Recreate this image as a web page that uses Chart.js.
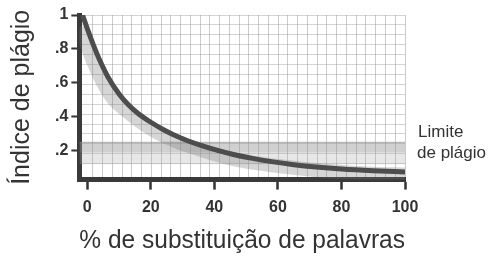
<!DOCTYPE html>
<html>
<head>
<meta charset="utf-8">
<script src="https://cdn.jsdelivr.net/npm/chart.js@4.4.1/dist/chart.umd.min.js"></script>
<style>
  html, body { margin: 0; padding: 0; background: #fff; }
  #wrap { width: 495px; height: 258px; position: relative; }
</style>
</head>
<body>
<div id="wrap"><canvas id="chart"></canvas></div>
<script>
// curva principal: % de substituição -> índice de plágio
const pctSubst = [-1.5, 0, 2, 4, 6.5, 10, 13, 16, 20, 24, 28, 32, 36, 41, 46, 52, 58, 65, 72, 80, 90, 100];
const indice = [1.0, 0.92, 0.82, 0.73, 0.635, 0.535, 0.47, 0.42, 0.368, 0.324, 0.287, 0.256, 0.23, 0.202, 0.178, 0.155, 0.136, 0.118, 0.104, 0.092, 0.082, 0.075];

// sombra cinza por baixo da curva
const sombraX = [-2, 0, 2, 5, 8, 12, 16, 20, 25, 30, 35, 40, 46, 52, 60, 70, 80, 90, 100];
const sombraY = [0.93, 0.82, 0.72, 0.6, 0.51, 0.44, 0.38, 0.33, 0.28, 0.24, 0.21, 0.18, 0.15, 0.13, 0.11, 0.09, 0.075, 0.065, 0.06];

// faixa "Limite de plágio"
const faixaX = [-2.5, 100];
const limiteSup = 0.25;
const limiteMeio = 0.19;
const limiteInf = 0.12;

const xTicks = [0, 20, 40, 60, 80, 100];
const yTicks = [0.2, 0.4, 0.6, 0.8, 1];
const yLabels = { 0.2: ".2", 0.4: ".4", 0.6: ".6", 0.8: ".8", 1: "1" };

const pts = (xs, ys) => xs.map((x, i) => ({ x: x, y: ys[i] }));
const flat = (v) => faixaX.map((x) => ({ x: x, y: v }));

const textColor = "#333";
const FONT = "'Liberation Sans', Arial, sans-serif";

const limiteLabel = {
  id: "limiteLabel",
  afterDraw(chart) {
    const { ctx, chartArea, scales } = chart;
    const y = scales.y.getPixelForValue(0.187);
    ctx.save();
    ctx.fillStyle = textColor;
    ctx.font = "17px " + FONT;
    ctx.textAlign = "left";
    ctx.textBaseline = "middle";
    ctx.fillText("Limite", chartArea.right + 13, y - 21);
    ctx.fillText("de plágio", chartArea.right + 12, y);
    ctx.restore();
  },
};

new Chart(document.getElementById("chart"), {
  type: "scatter",
  data: {
    datasets: [
      {
        data: pts(pctSubst, indice),
        showLine: true,
        borderColor: "#4d4d4d",
        borderWidth: 5,
        pointRadius: 0,
        cubicInterpolationMode: "monotone",
      },
      {
        data: pts(sombraX, sombraY),
        showLine: true,
        borderColor: "rgba(120,120,120,0.3)",
        borderWidth: 14,
        pointRadius: 0,
        cubicInterpolationMode: "monotone",
      },
      {
        data: flat(limiteSup),
        showLine: true,
        borderColor: "rgba(140,140,140,0.6)",
        borderWidth: 1,
        pointRadius: 0,
        fill: "+1",
        backgroundColor: "rgba(150,150,150,0.45)",
      },
      {
        data: flat(limiteMeio),
        showLine: true,
        borderWidth: 0,
        pointRadius: 0,
        fill: "+1",
        backgroundColor: "rgba(170,170,170,0.28)",
      },
      {
        data: flat(limiteInf),
        showLine: true,
        borderWidth: 0,
        pointRadius: 0,
      },
    ],
  },
  options: {
    responsive: true,
    maintainAspectRatio: false,
    animation: false,
    layout: { padding: { top: 15, right: 90, bottom: 0, left: 0 } },
    plugins: {
      legend: { display: false },
      tooltip: { enabled: false },
    },
    scales: {
      x: {
        type: "linear",
        min: -2.5,
        max: 100,
        afterBuildTicks: (axis) => { axis.ticks = xTicks.map((v) => ({ value: v })); },
        grid: { drawOnChartArea: false, drawTicks: true, tickLength: 10, tickColor: "#333", tickWidth: 2.5 },
        border: { display: true, color: "#3a3a3a", width: 5 },
        ticks: { color: textColor, padding: 8, font: { family: FONT, size: 16, weight: "bold" } },
        title: {
          display: true,
          text: "% de substituição de palavras",
          color: textColor,
          font: { family: FONT, size: 26 },
          padding: { top: 0, bottom: 2 },
        },
      },
      y: {
        type: "linear",
        min: 0.03,
        max: 1,
        afterBuildTicks: (axis) => { axis.ticks = yTicks.map((v) => ({ value: v })); },
        grid: { drawOnChartArea: false, drawTicks: true, tickLength: 8, tickColor: "#333", tickWidth: 2 },
        border: { display: true, color: "#3a3a3a", width: 5 },
        ticks: {
          color: textColor,
          padding: 3,
          font: { family: FONT, size: 16, weight: "bold" },
          callback: (v) => yLabels[v],
        },
        title: {
          display: true,
          text: "Índice de plágio",
          color: textColor,
          font: { family: FONT, size: 25 },
          padding: { top: 7, bottom: 15 },
        },
      },
      // grade fina (só linhas)
      x2: {
        type: "linear",
        position: "top",
        min: -1.4,
        max: 32,
        ticks: { display: false, stepSize: 1 },
        grid: { drawTicks: false, color: "rgba(150,150,150,0.5)", lineWidth: 1 },
        border: { display: false },
      },
      y2: {
        type: "linear",
        position: "right",
        reverse: true,
        min: 0,
        max: 16.6,
        ticks: { display: false, stepSize: 1 },
        grid: { drawTicks: false, color: "rgba(150,150,150,0.42)", lineWidth: 1 },
        border: { display: false },
      },
    },
  },
  plugins: [limiteLabel],
});
</script>
</body>
</html>
